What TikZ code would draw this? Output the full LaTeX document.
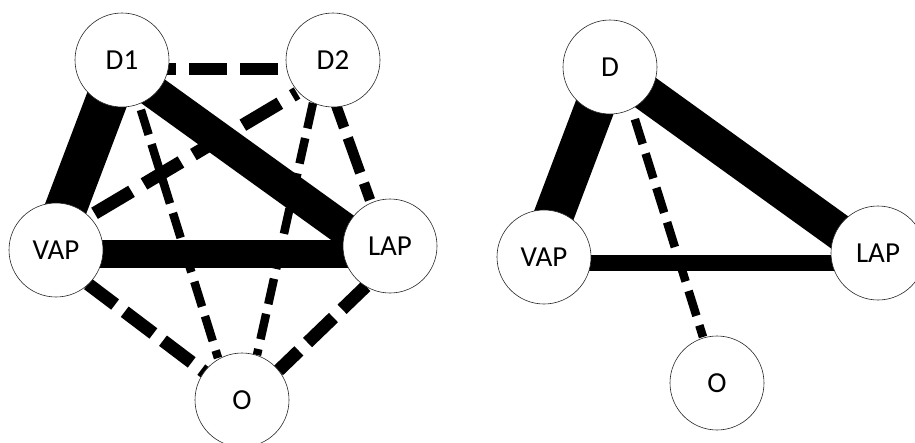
\documentclass[tikz,border=0pt]{standalone}
\usepackage{fontspec}
\setmainfont{Carlito}
\usetikzlibrary{calc}
\pgfdeclarelayer{background}
\pgfsetlayers{background,main}
\begin{document}
\begin{tikzpicture}[x=1pt,y=-1pt,
  vtx/.style={circle,draw=black!85,line width=0.6pt,fill=white,minimum size=94pt,inner sep=0pt,font=\fontsize{29}{33}\selectfont},
  solidedge/.style={line width=#1},
  dashedge/.style n args={4}{line width=#1,dash pattern=on #2 off #3,dash phase=#4}]
\useasboundingbox (0,0) rectangle (915,442);
% left graph
\node[vtx] (D1)  at (122,60)  {D1};
\node[vtx] (D2)  at (333,60)  {D2};
\node[vtx] (VAP) at (56,250)  {VAP};
\node[vtx] (LAP) at (390,246) {LAP};
\node[vtx] (O)   at (242,400) {O};
% right graph
\node[vtx] (D)    at (610,67)  {D};
\node[vtx] (VAP2) at (544,257) {VAP};
\node[vtx] (LAP2) at (878,253) {LAP};
\node[vtx] (O2)   at (717,383) {O};
\begin{pgfonlayer}{background}
\fill[white] (0,0) rectangle (915,442);
% left edges
\draw[solidedge=42pt] (D1.center) -- ($(VAP)+(-6,0)$);
\draw[solidedge=33pt] ($(D1)+(0,9)$) -- ($(LAP)+(0,16)$);
\draw[solidedge=28pt] ($(VAP)+(0,4)$) -- ($(LAP)+(0,8)$);
\draw[dashedge={12pt}{38pt}{13pt}{35pt}] ($(D1)+(0,9)$) -- ($(D2)+(0,9)$);
\draw[dashedge={13pt}{43pt}{14.5pt}{37.5pt}] ($(D2)+(-36,33)$) -- ($(VAP)+(34,-34)$);
\draw[dashedge={8.5pt}{26pt}{10pt}{33pt}] ($(D1)+(18,47)$) -- ($(O)+(-24,-42)$);
\draw[dashedge={8.5pt}{26pt}{10pt}{0pt}] ($(D2)+(-20,43)$) -- ($(O)+(15,-45)$);
\draw[dashedge={10.5pt}{37pt}{11pt}{13pt}] ($(D2)+(3,45)$) -- ($(LAP)+(-20,-46)$);
\draw[dashedge={13pt}{36pt}{12pt}{2pt}] ($(VAP)+(32,34)$) -- ($(O)+(-37.6,-28)$);
\draw[dashedge={13pt}{36pt}{12pt}{7.7pt}] ($(O)+(36.5,-29.5)$) -- ($(LAP)+(-24.1,40.3)$);
% right edges
\draw[solidedge=40pt] (D.center) -- ($(VAP2)+(-6,0)$);
\draw[solidedge=36pt] (D.center) -- ($(LAP2)+(0,7)$);
\draw[solidedge=16pt] ($(VAP2)+(0,6)$) -- ($(LAP2)+(0,10)$);
\draw[dashedge={8.5pt}{26pt}{10pt}{26.4pt}] ($(D)+(22,43)$) -- ($(O2)+(-14,-46)$);
\end{pgfonlayer}
\end{tikzpicture}
\end{document}
